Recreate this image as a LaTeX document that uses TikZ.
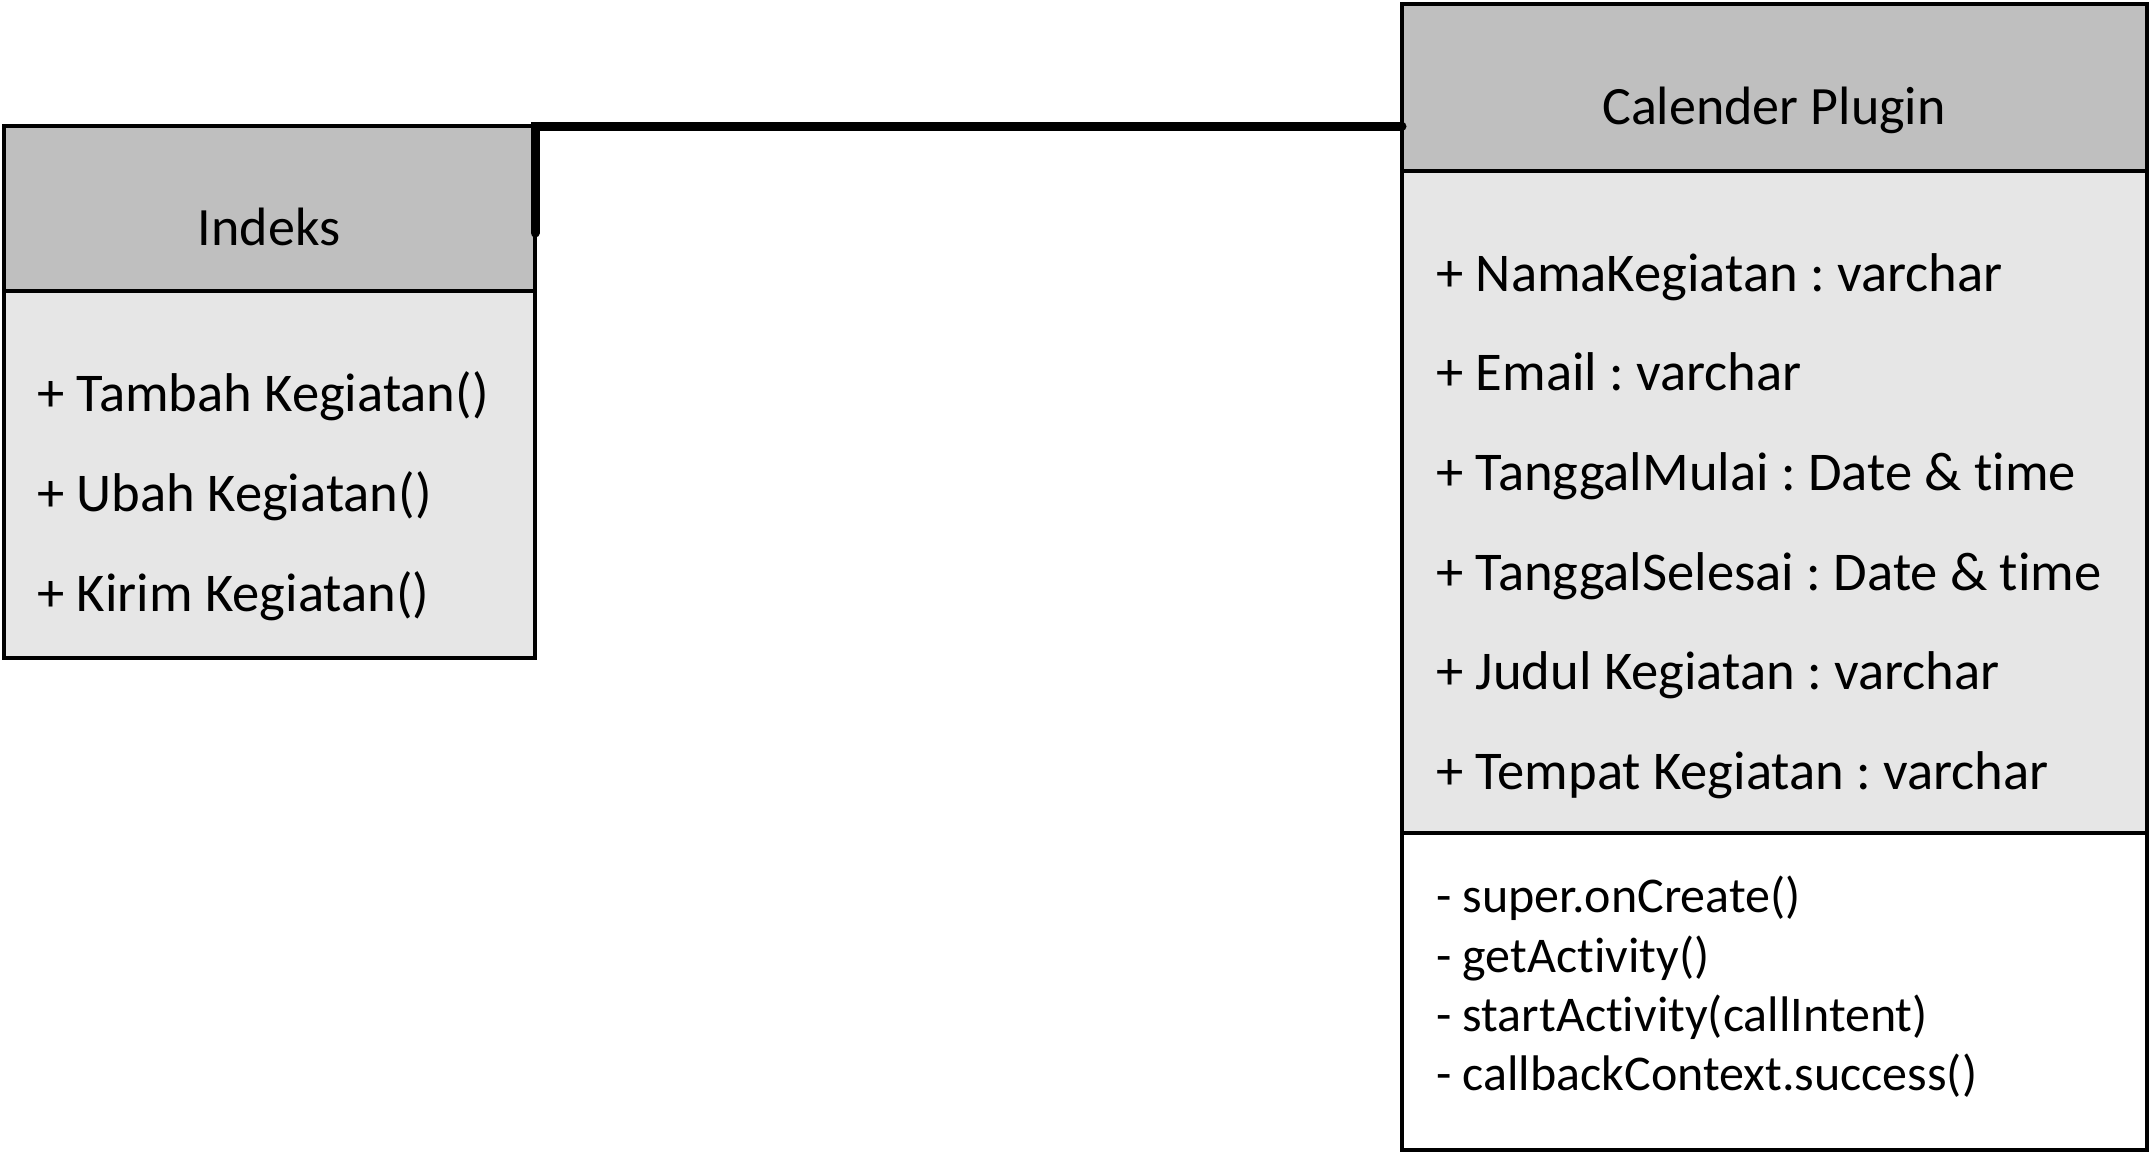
\documentclass[tikz,border=0pt]{standalone}
\usepackage{fontspec}
\setmainfont[RawFeature={-liga;-clig;-dlig;-calt}]{Carlito}
\definecolor{hdr}{HTML}{BFBFBF}
\definecolor{bodyc}{HTML}{E6E6E6}
\frenchspacing
\begin{document}
\begin{tikzpicture}[x=1pt,y=-1pt,
  part/.style={draw=black, line width=4.5pt, anchor=north west, inner sep=0pt, outer sep=0pt},
  txt/.style={anchor=base west, inner sep=0pt, font=\fontsize{54.6}{65}\selectfont},
  ttl/.style={anchor=base, inner sep=0pt, font=\fontsize{54}{64}\selectfont},
  optxt/.style={anchor=base west, inner sep=0pt, font=\fontsize{50}{60}\selectfont},
  conn/.style={draw=black, line width=9pt, line cap=round, line join=miter}]
\useasboundingbox (0,0) rectangle (2151,1157);
% Indeks class
\node[part, fill=hdr, minimum width=531pt, minimum height=165pt] (ihead) at (4,126) {};
\node[part, fill=bodyc, minimum width=531pt, minimum height=367pt] (ibody) at (ihead.south west) {};
\node[ttl] (ititle) at (269,245) {Indeks};
\node[txt] (m1) at (37,411) {+ Tambah Kegiatan()};
\node[txt] (m2) at (37,511) {+ Ubah Kegiatan()};
\node[txt] (m3) at (37,611) {+ Kirim Kegiatan()};
% Calender Plugin class
\node[part, fill=hdr, minimum width=745pt, minimum height=167pt] (chead) at (1402,4) {};
\node[part, fill=bodyc, minimum width=745pt, minimum height=662pt] (cattr) at (chead.south west) {};
\node[part, fill=white, minimum width=745pt, minimum height=317pt] (cops) at (cattr.south west) {};
\node[ttl] (ctitle) at (1774,124) {Calender Plugin};
\node[txt] (a1) at (1436,291) {+ NamaKegiatan : varchar};
\node[txt] (a2) at (1436,390) {+ Email : varchar};
\node[txt] (a3) at (1436,490) {+ TanggalMulai : Date \& time};
\node[txt] (a4) at (1436,590) {+ TanggalSelesai : Date \& time};
\node[txt] (a5) at (1436,689) {+ Judul Kegiatan : varchar};
\node[txt] (a6) at (1436,789) {+ Tempat Kegiatan : varchar};
\node[optxt] (o1) at (1436,912) {- super.onCreate()};
\node[optxt] (o2) at (1436,972) {- getActivity()};
\node[optxt] (o3) at (1436,1031) {- startActivity(callIntent)};
\node[optxt] (o4) at (1436,1090) {- callbackContext.success()};
% connector
\coordinate (cstart) at (535,233);
\draw[conn] (cstart) -- (ihead.north east) -- (ihead.north east -| chead.west);
\end{tikzpicture}
\end{document}
